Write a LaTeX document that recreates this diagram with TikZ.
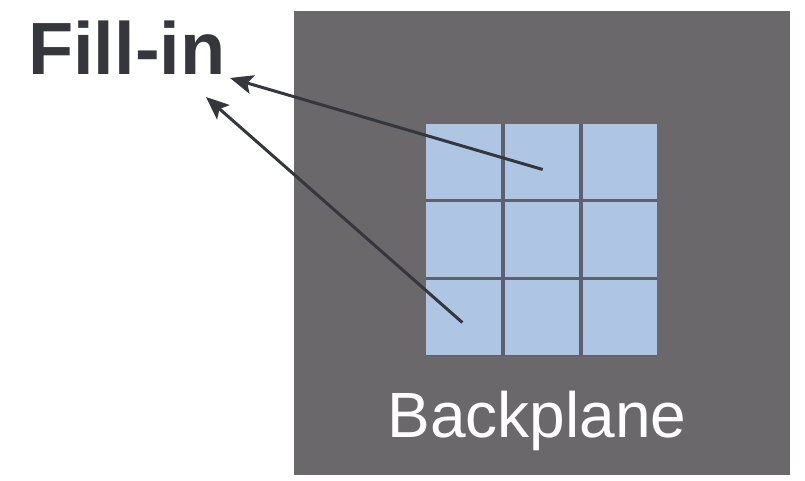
\documentclass[tikz,border=0pt]{standalone}
\usepackage{fontspec}
\setmainfont{Liberation Sans}
\usetikzlibrary{arrows.meta}
\definecolor{planegray}{HTML}{6A686B}
\definecolor{slotblue}{HTML}{AEC6E4}
\definecolor{seamgray}{HTML}{5B6170}
\definecolor{inkdark}{HTML}{35373C}
\tikzset{
  cell/.style={fill=slotblue, draw=none, minimum width=74.3pt, minimum height=74.6pt, inner sep=0pt, anchor=north west},
  pointer/.style={draw=inkdark, line width=3pt, -{Stealth[length=23pt,width=19pt,inset=5pt]}},
}
\begin{document}
\begin{tikzpicture}[x=1pt,y=-1pt]
  \useasboundingbox (0,0) rectangle (805,481);
  % backplane board
  \fill[planegray] (294,11) rectangle (790,475);
  % seams between the slots
  \fill[seamgray] (426,124) rectangle (657,356);
  % 3x3 slots
  \foreach \r/\yy in {1/124,2/202,3/280}{
    \foreach \c/\xx in {1/426,2/504.35,3/582.7}{
      \node[cell] (c\r\c) at (\xx,\yy) {};
    }
  }
  \node[anchor=base, text=white, font=\fontsize{64}{64}\selectfont, inner sep=0pt] (bp) at (537,437) {Backplane};
  \node[anchor=base west, text=inkdark, font=\bfseries\fontsize{74}{74}\selectfont, inner sep=0pt] (fill) at (28,75) {Fill-in};
  \coordinate (tipA) at (230,78);
  \coordinate (tipB) at (206,97);
  \draw[pointer] ([xshift=1pt,yshift=-8pt]c12.center) -- (tipA);
  \draw[pointer] ([xshift=-1pt,yshift=-5pt]c31.center) -- (tipB);
\end{tikzpicture}
\end{document}
